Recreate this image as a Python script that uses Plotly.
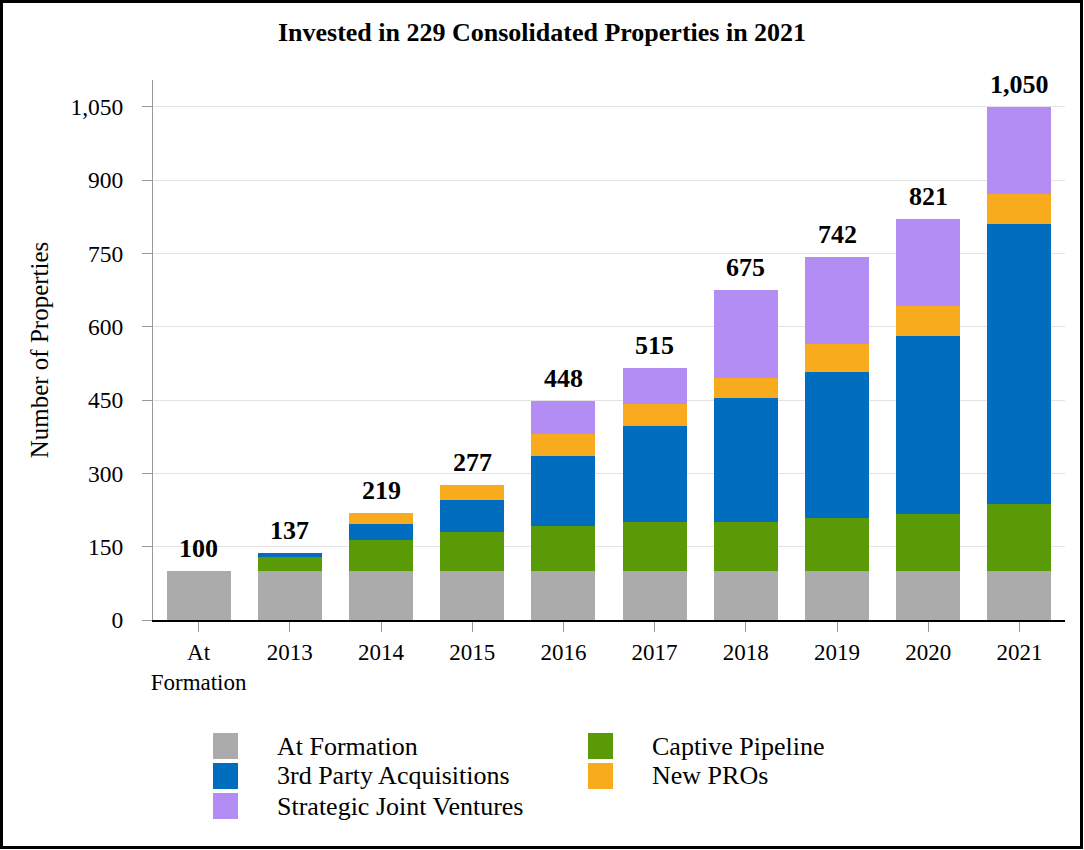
import plotly.graph_objects as go

categories = ["At<br>Formation", "2013", "2014", "2015", "2016", "2017", "2018", "2019", "2020", "2021"]
at_formation = [100, 100, 100, 100, 100, 100, 100, 100, 100, 100]
captive_pipeline = [0, 28, 64, 80, 92, 100, 100, 109, 117, 137]
third_party = [0, 9, 33, 66, 144, 197, 254, 299, 364, 573]
new_pros = [0, 0, 22, 31, 45, 45, 41, 57, 62, 61]
strategic_jv = [0, 0, 0, 0, 67, 73, 180, 177, 178, 179]
totals = [100, 137, 219, 277, 448, 515, 675, 742, 821, 1050]
y_ticks = [0, 150, 300, 450, 600, 750, 900, 1050]

series = [
    ("At Formation", at_formation, "#ABABAB"),
    ("Captive Pipeline", captive_pipeline, "#5B9A07"),
    ("3rd Party Acquisitions", third_party, "#006DBE"),
    ("New PROs", new_pros, "#F9AB1E"),
    ("Strategic Joint Ventures", strategic_jv, "#B38DF3"),
]

FONT = "Liberation Serif, Times New Roman, serif"
W, H = 1084, 850
L, R, T, B = 153, 1065, 80, 620

def px(x):
    return (x - L) / (R - L)

def py(y):
    return (B - y) / (B - T)

fig = go.Figure()
for name, vals, color in series:
    fig.add_trace(go.Bar(x=categories, y=vals, name=name, marker=dict(color=color, line=dict(width=0)),
                         showlegend=False))

# total labels (x given as category index on the category axis)
for i, t in enumerate(totals):
    fig.add_annotation(x=i, y=t, text=f"<b>{t:,}</b>", showarrow=False, yanchor="bottom", yshift=6,
                       font=dict(family=FONT, size=26, color="black"))

# manual legend (2 columns, row-major)
legend_pos = [(213, 746), (588, 746), (213, 776), (588, 776), (213, 806)]
for (name, vals, color), (lx, ly) in zip(series, legend_pos):
    fig.add_shape(type="rect", xref="paper", yref="paper",
                  x0=px(lx), x1=px(lx + 25), y0=py(ly - 13), y1=py(ly + 13),
                  fillcolor=color, line=dict(width=0))
    fig.add_annotation(xref="paper", yref="paper", x=px(lx + 62), y=py(ly), text=name, showarrow=False,
                       xanchor="left", yanchor="middle", font=dict(family=FONT, size=26, color="black"))

# outer frame
fig.add_shape(type="rect", xref="paper", yref="paper",
              x0=px(1.5), x1=px(W - 2.5), y0=py(H - 2.5), y1=py(1.5),
              line=dict(color="black", width=3), fillcolor="rgba(0,0,0,0)")

fig.update_layout(
    width=W, height=H,
    margin=dict(l=L, r=W - R, t=T, b=H - B),
    barmode="stack", bargap=0.3,
    plot_bgcolor="white", paper_bgcolor="white",
    font=dict(family=FONT, size=23, color="black"),
    title=dict(text="<b>Invested in 229 Consolidated Properties in 2021</b>", xref="container", x=0.5,
               xanchor="center", yref="container", y=1 - 32 / H, yanchor="middle",
               font=dict(family=FONT, size=26, color="black")),
    xaxis=dict(type="category", categoryorder="array", categoryarray=categories, range=[-0.5, 9.5],
               showline=True, linecolor="black", linewidth=2, ticks="outside", ticklen=10,
               tickcolor="#999", tickfont=dict(family=FONT, size=23), showgrid=False, ticklabelstandoff=0),
    yaxis=dict(range=[0, 1105], tickvals=y_ticks, tickformat=",", showline=True, linecolor="#999",
               linewidth=1, ticks="outside", ticklen=10, tickcolor="#999", gridcolor="#E3E3E3", gridwidth=1,
               tickfont=dict(family=FONT, size=23.5), zeroline=False, ticklabelstandoff=14,
               title=dict(text="Number of Properties", font=dict(family=FONT, size=25), standoff=14)),
)

fig.write_html("out.html", post_script="document.body.style.margin='0px';",
               config={"displayModeBar": False})
